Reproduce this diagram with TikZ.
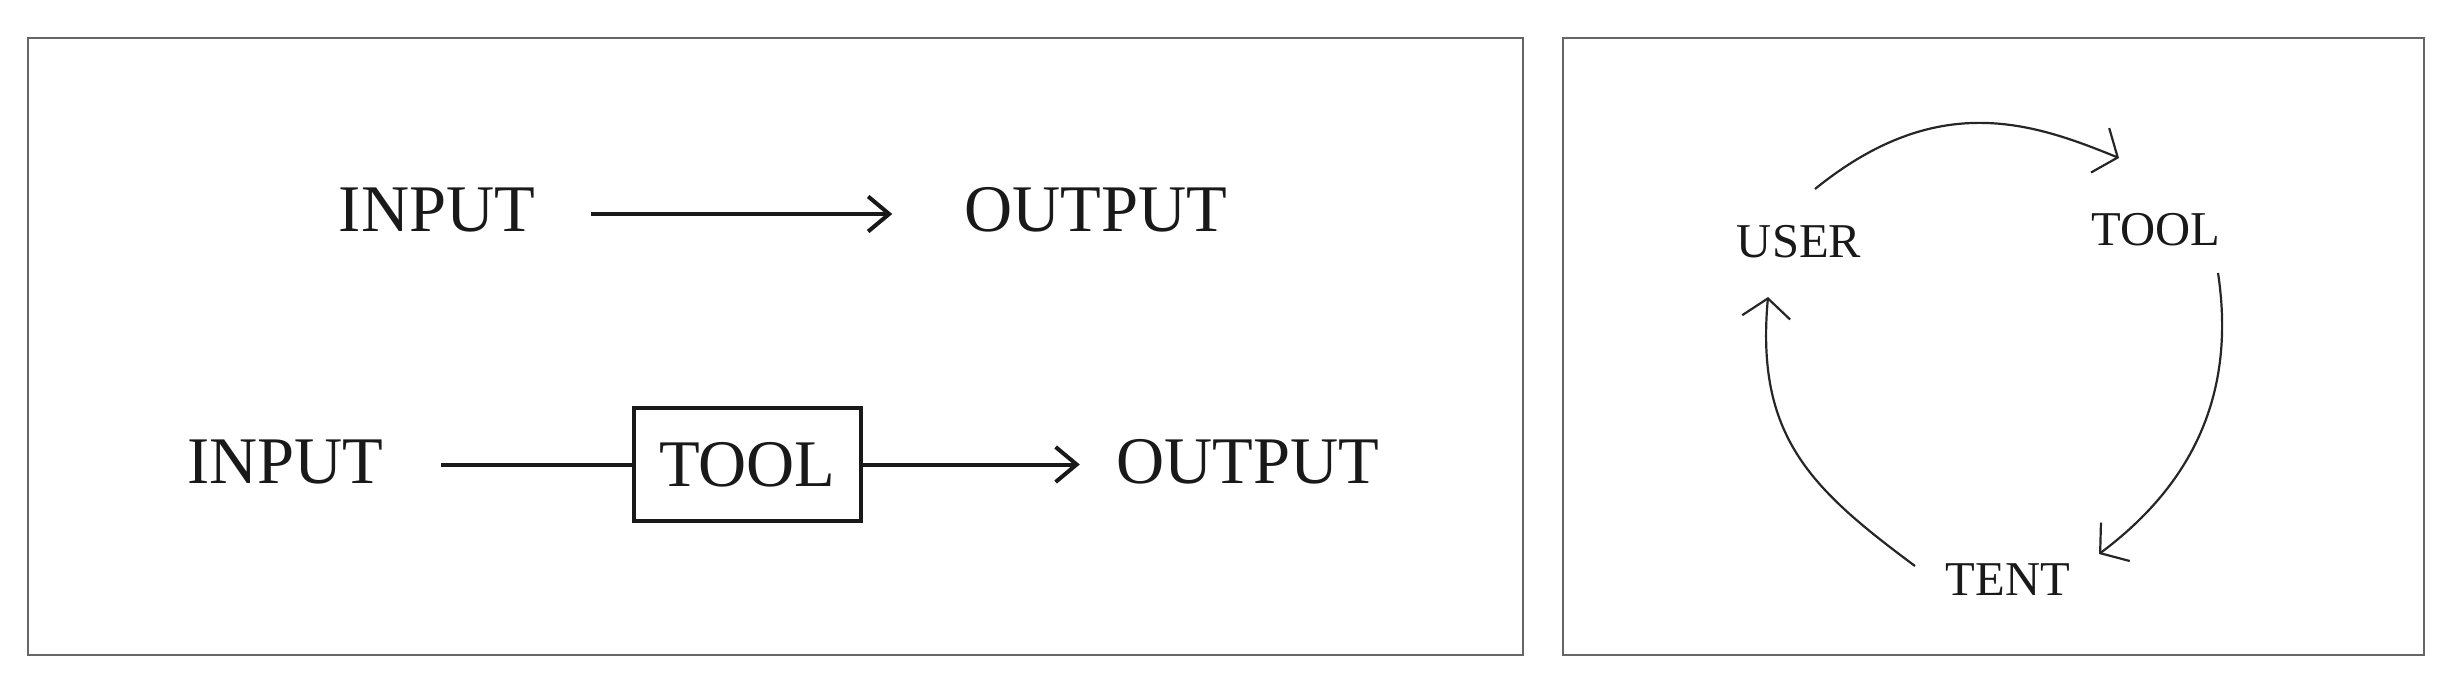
\documentclass[tikz,border=0pt]{standalone}
\usepackage{fontspec}
\setmainfont{Liberation Serif}
\usetikzlibrary{arrows.meta}
\tikzset{
  panel/.style={draw=black!60, line width=0.7pt},
  bigtxt/.style={inner sep=0pt, anchor=base, font=\fontsize{33.3}{40}\selectfont, text=black!90},
  smalltxt/.style={inner sep=0pt, anchor=base, font=\fontsize{24.3}{29}\selectfont, text=black!90},
  flow/.style={line width=2pt, draw=black!90},
  flowarr/.style={flow, -{Straight Barb[length=10.5pt, width=17.5pt]}},
  toolbox/.style={draw=black!90, line width=2pt, minimum width=113.5pt, minimum height=56.5pt, inner sep=0pt,
    font=\fontsize{33.3}{40}\selectfont, text=black!90},
  cyc/.style={line width=1.1pt, draw=black!85, -{Straight Barb[length=9.5pt, width=24pt]}},
}
\begin{document}
\begin{tikzpicture}[x=0.5pt,y=-0.5pt]
\useasboundingbox (0,0) rectangle (2460,692);
% panels
\draw[panel] (28,38) rectangle (1523,655);
\draw[panel] (1563,38) rectangle (2424,655);
% left panel, row 1
\node[bigtxt] (in1) at (437,231) {INPUT};
\node[bigtxt] (out1) at (1096,231) {OUTPUT};
\draw[flowarr, shorten <=28pt, shorten >=36pt]
  ([yshift=8.5pt]in1.base east) -- ([yshift=8.5pt]out1.base west);
% left panel, row 2
\node[bigtxt] (in2) at (285.6,483) {INPUT};
\node[toolbox] (tool) at (747.5,464.5) {TOOL};
\node[bigtxt] (out2) at (1247.5,483) {OUTPUT};
\draw[flow, shorten <=28.5pt] (in2.east |- tool.west) -- (tool.west);
\draw[flowarr, shorten >=18pt] (tool.east) -- (out2.west |- tool.east);
% right panel
\node[smalltxt] (user) at (1799,257) {USER};
\node[smalltxt] (tool2) at (2156,245) {TOOL};
\node[smalltxt] (tent) at (2008,595) {TENT};
\coordinate (ua) at (1815,189);
\coordinate (ta) at (2119,158);
\coordinate (tb) at (2218,273);
\coordinate (na) at (2099,554);
\coordinate (nb) at (1915,566);
\coordinate (ub) at (1768,297);
\draw[cyc] (ua) .. controls (1937,90) and (2031.6,122.3) .. (ta);
\draw[cyc] (tb) .. controls (2237.5,401.6) and (2185.6,489.2) .. (na);
\draw[cyc] (nb) .. controls (1810.6,488.5) and (1755.4,436.4) .. (ub);
\end{tikzpicture}
\end{document}
